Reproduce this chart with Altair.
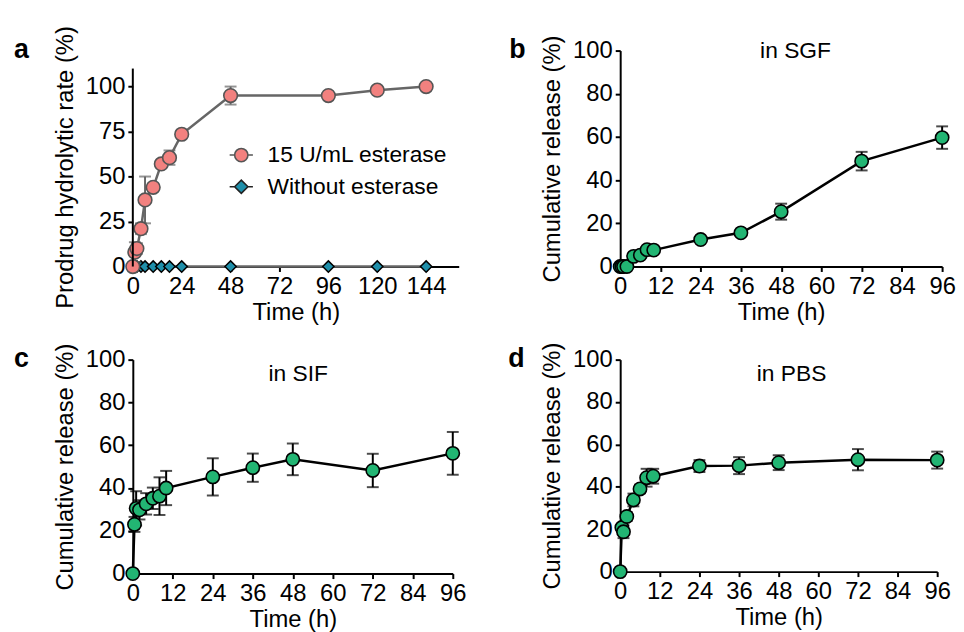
import altair as alt
import pandas as pd

FONT = "Liberation Sans"
PINK = "#F2817F"
PINK_EDGE = "#555555"
TEAL = "#1F8FAA"
GREEN = "#22B573"
GRAY_LINE = "#666666"

# ---------------- data ----------------
time_a = [0, 1, 2, 4, 6, 10, 14, 18, 24, 48, 96, 120, 144]
esterase = [0, 8, 10, 21, 37, 44, 57, 60.5, 73.5, 95, 95, 98, 100]
esterase_err = [0, 5.5, 3, 3, 13, 2, 2, 4, 2, 5, 1, 1, 1]
without = [0, 0, 0, 0, 0, 0, 0, 0, 0, 0, 0, 0, 0]
series_names = ["15 U/mL esterase", "Without esterase"]

time_r = [0, 0.5, 1, 2, 4, 6, 8, 10, 24, 36, 48, 72, 96]
sgf = [0, 0, 0, 0, 4.7, 5.3, 7.8, 7.6, 12.5, 15.6, 25.4, 48.8, 59.7]
sgf_err = [0.3, 0.3, 0.3, 0.5, 1, 1, 1, 1, 1, 1, 3.7, 4.3, 5.2]
sif = [0, 23, 30.5, 29.8, 32.6, 35.2, 36.2, 40, 45.2, 49.5, 53.4, 48.2, 56.2]
sif_err = [0, 3.5, 8, 4.5, 5, 5, 8.8, 8, 8.7, 6.6, 7.4, 7.8, 10]
pbs = [0, 20.8, 18.8, 26, 33.8, 39, 44.3, 45, 49.8, 50, 51.4, 52.8, 52.6]
pbs_err = [0, 1.5, 3, 2, 3, 2, 4.2, 3.5, 2.8, 4, 3.5, 5, 4]

x_ticks_a = [0, 24, 48, 72, 96, 120, 144]
y_ticks_a = [0, 25, 50, 75, 100]
x_ticks_r = [0, 12, 24, 36, 48, 60, 72, 84, 96]
y_ticks_r = [0, 20, 40, 60, 80, 100]


def frame(t, v, e):
    return pd.DataFrame({
        "t": t, "v": v,
        "lo": [a - b for a, b in zip(v, e)],
        "hi": [a + b for a, b in zip(v, e)],
    })


def annotations(letter, lx, ly, label=None, tx=0, ty=0):
    layers = [
        alt.Chart(pd.DataFrame({"s": [letter]})).mark_text(
            font=FONT, fontSize=27, fontWeight="bold", align="left",
            baseline="alphabetic", color="black"
        ).encode(text="s:N", x=alt.value(lx), y=alt.value(ly))
    ]
    if label:
        layers.append(
            alt.Chart(pd.DataFrame({"s": [label]})).mark_text(
                font=FONT, fontSize=23, align="center",
                baseline="alphabetic", color="black"
            ).encode(text="s:N", x=alt.value(tx), y=alt.value(ty))
        )
    return layers


def release_panel(vals, errs, letter, lx, ly, label, tx, ty, w, h):
    df = frame(time_r, vals, errs)
    xs = alt.Scale(domain=[0, 96], nice=False)
    ys = alt.Scale(domain=[0, 100], nice=False)
    xa = alt.Axis(values=x_ticks_r, title="Time (h)")
    ya = alt.Axis(values=y_ticks_r, title="Cumulative release (%)")
    X = lambda f: alt.X(f, scale=xs, axis=xa)
    Y = lambda f: alt.Y(f, scale=ys, axis=ya)
    base = alt.Chart(df)
    rules = base.mark_rule(color="black", strokeWidth=2).encode(
        x=X("t:Q"), y=Y("lo:Q"), y2="hi:Q")
    caps = base.transform_fold(["lo", "hi"]).mark_tick(
        orient="horizontal", size=12, thickness=2, color="black"
    ).encode(x=X("t:Q"), y=Y("value:Q"))
    line = base.mark_line(color="black", strokeWidth=2.5).encode(
        x=X("t:Q"), y=Y("v:Q"))
    pts = base.mark_point(
        filled=True, shape="circle", size=180, fill=GREEN, stroke="black",
        strokeWidth=1.6, opacity=1
    ).encode(x=X("t:Q"), y=Y("v:Q"))
    return alt.layer(rules, caps, line, pts,
                     *annotations(letter, lx, ly, label, tx, ty)).properties(
        width=w, height=h)


# ---------------- panel a ----------------
df_e = frame(time_a, esterase, esterase_err)
df_w = frame(time_a, without, [0] * len(without))
xs_a = alt.Scale(domain=[0, 160], nice=False)
ys_a = alt.Scale(domain=[0, 120], nice=False)
xa_a = alt.Axis(values=x_ticks_a, title="Time (h)")
ya_a = alt.Axis(values=y_ticks_a, title="Prodrug hydrolytic rate (%)",
                domain=False, titleY=117.5)
XA = lambda f: alt.X(f, scale=xs_a, axis=xa_a)
YA = lambda f: alt.Y(f, scale=ys_a, axis=ya_a)

y_axis_line = alt.Chart(pd.DataFrame({"k": [0]})).mark_rule(
    color="black", strokeWidth=2
).encode(x=alt.datum(0), y=alt.datum(0), y2=alt.datum(110))

w_line = alt.Chart(df_w).mark_line(color=GRAY_LINE, strokeWidth=2.5).encode(
    x=XA("t:Q"), y=YA("v:Q"))
w_pts = alt.Chart(df_w).mark_point(
    filled=True, shape="diamond", size=130, fill=TEAL, stroke="black",
    strokeWidth=1.5, opacity=1
).encode(x=XA("t:Q"), y=YA("v:Q"))
e_rules = alt.Chart(df_e).mark_rule(color=GRAY_LINE, strokeWidth=2).encode(
    x=XA("t:Q"), y=YA("lo:Q"), y2="hi:Q")
e_caps = alt.Chart(df_e).transform_fold(["lo", "hi"]).mark_tick(
    orient="horizontal", size=12, thickness=2, color=GRAY_LINE
).encode(x=XA("t:Q"), y=YA("value:Q"))
e_line = alt.Chart(df_e).mark_line(color=GRAY_LINE, strokeWidth=2.5).encode(
    x=XA("t:Q"), y=YA("v:Q"))
e_pts = alt.Chart(df_e).mark_point(
    filled=True, shape="circle", size=190, fill=PINK, stroke=PINK_EDGE,
    strokeWidth=1.6, opacity=1
).encode(x=XA("t:Q"), y=YA("v:Q"))

circle_path = "M-1.75,0L-1,0M1,0L1.75,0M-1,0A1,1,0,1,0,1,0A1,1,0,1,0,-1,0Z"
diamond_path = "M-1.75,0L-1,0M1,0L1.75,0M-1,0L0,-1L1,0L0,1Z"
leg = alt.Legend(title=None, orient="none", legendX=98, legendY=94,
                 symbolSize=180, labelFont=FONT, labelFontSize=23,
                 labelColor="black", labelOffset=15, labelLimit=400,
                 rowPadding=8, padding=0, symbolStrokeWidth=1.6,
                 symbolOpacity=1)
legend_df = pd.DataFrame({"series": series_names, "v": [-1, -1]})
legend_layer = alt.Chart(legend_df).transform_filter("datum.v > 0").mark_point(
    filled=True, opacity=1, strokeWidth=1.6
).encode(
    shape=alt.Shape("series:N", scale=alt.Scale(domain=series_names,
                                                range=[circle_path, diamond_path]),
                    legend=leg),
    fill=alt.Fill("series:N", scale=alt.Scale(domain=series_names,
                                              range=[PINK, TEAL]), legend=leg),
    stroke=alt.Stroke("series:N", scale=alt.Scale(domain=series_names,
                                                  range=[PINK_EDGE, "#222222"]),
                      legend=leg),
)

panel_a = alt.layer(
    w_line, w_pts, e_rules, e_caps, e_line, e_pts, y_axis_line, legend_layer,
    *annotations("a", -120, 8)
).properties(width=329, height=218)

panel_b = release_panel(sgf, sgf_err, "b", -112, 7, "in SGF", 177, 8, 325, 218)
panel_c = release_panel(sif, sif_err, "c", -120, 7, "in SIF", 167, 22, 323, 216)
panel_d = release_panel(pbs, pbs_err, "d", -113, 7, "in PBS", 173, 22, 320, 214)

chart = alt.concat(
    panel_a, panel_b, panel_c, panel_d, columns=2,
    spacing={"row": 94, "column": 163}, bounds="flush", align="each"
).properties(
    padding={"left": 6, "top": 14, "right": 0, "bottom": 0}
).configure_view(strokeWidth=0).configure_axis(
    domainColor="black", domainWidth=2, tickColor="black", tickWidth=2,
    tickSize=5, labelFont=FONT, labelFontSize=24, labelColor="black",
    labelPadding=3, labelFlush=False, labelOverlap=False,
    titleFont=FONT, titleFontSize=24, titleFontWeight="normal",
    titleColor="black", titlePadding=8, grid=False
).configure_axisX(titlePadding=2)

chart.save("out.html", embed_options={"renderer": "svg", "actions": False})
